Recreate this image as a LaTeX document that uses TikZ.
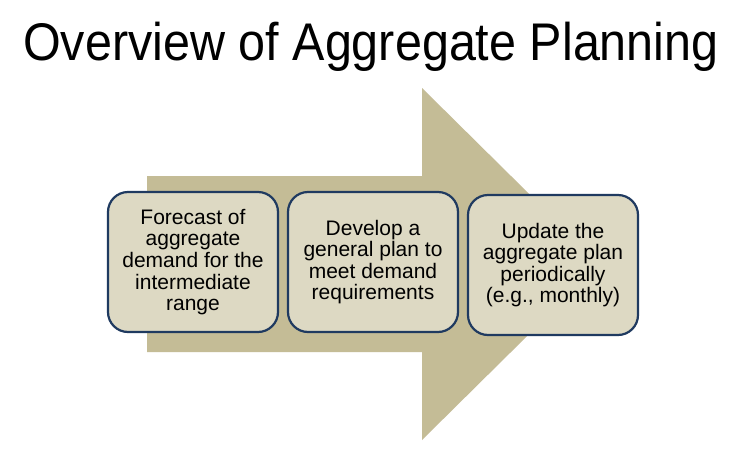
\documentclass[tikz,border=0pt]{standalone}
\usepackage{fontspec}
\setmainfont{Liberation Sans}
\newfontfamily\titlefont[FakeStretch=0.915]{Liberation Sans}
\definecolor{arrowtan}{HTML}{C4BC96}
\definecolor{boxfill}{HTML}{DDD9C3}
\definecolor{boxline}{HTML}{1F3A60}
\begin{document}
\begin{tikzpicture}[x=1pt,y=-1pt,
  stepbox/.style={draw=boxline, line width=2.2pt, fill=boxfill, rounded corners=20pt,
    minimum width=170pt, minimum height=140pt, inner sep=2pt, align=center,
    font=\fontsize{21}{21.6}\selectfont},
  title/.style={font=\titlefont\fontsize{53}{60}\selectfont, anchor=base}]
\useasboundingbox (0,0) rectangle (742,453);
\fill[white] (0,0) rectangle (742,453);
% big arrow
\fill[arrowtan] (147,176) -- (422,176) -- (422,88) -- (600,264) -- (422,440) -- (422,352) -- (147,352) -- cycle;
\node[title] (t) at (371,60) {Overview of Aggregate Planning};
\node[stepbox] (b1) at (193,262) {Forecast of\\aggregate\\demand for the\\intermediate\\range};
\node[stepbox] (b2) at (373,262) {Develop a\\general plan to\\meet demand\\requirements};
\node[stepbox] (b3) at (553,265) {Update the\\aggregate plan\\periodically\\(e.g., monthly)};
\end{tikzpicture}
\end{document}
